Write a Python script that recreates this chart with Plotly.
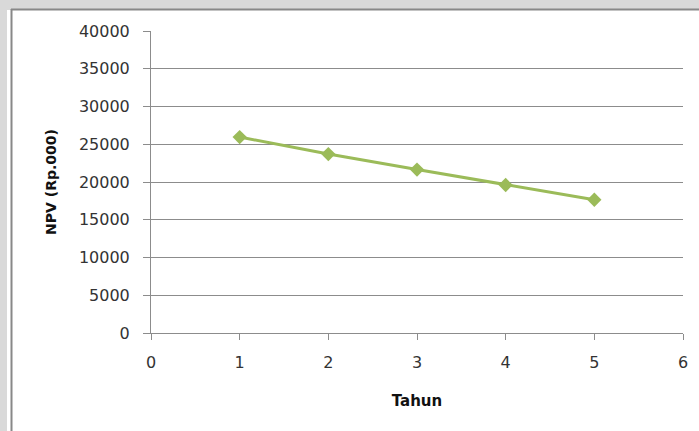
import plotly.graph_objects as go

# NPV per year
tahun = [1, 2, 3, 4, 5]
npv = [25950, 23700, 21650, 19600, 17650]

x_ticks = [0, 1, 2, 3, 4, 5, 6]
y_ticks = [0, 5000, 10000, 15000, 20000, 25000, 30000, 35000, 40000]

W, H = 699, 431
ML, MR, MT, MB = 151, 16, 31, 98
PW, PH = W - ML - MR, H - MT - MB


def px_x(p):
    return (p - ML) / PW


def px_y(p):
    return 1 - (p - MT) / PH


GREEN = "#9BBB59"
GRID = "#8c8c8c"
FONT = "DejaVu Sans"

fig = go.Figure()
fig.add_trace(go.Scatter(
    x=tahun, y=npv, mode="lines+markers",
    line=dict(color=GREEN, width=3),
    marker=dict(symbol="diamond", size=11, color=GREEN),
    showlegend=False, hoverinfo="x+y",
))

shapes = [
    # white chart area
    dict(type="rect", xref="paper", yref="paper", layer="below",
         x0=px_x(7), x1=px_x(W + 20), y0=px_y(H + 20), y1=px_y(10),
         fillcolor="white", line=dict(width=0)),
    # chart border
    dict(type="line", xref="paper", yref="paper", layer="below",
         x0=px_x(11.5), x1=px_x(11.5), y0=px_y(9), y1=px_y(H + 20),
         line=dict(color="#888888", width=2)),
    dict(type="line", xref="paper", yref="paper", layer="below",
         x0=px_x(11), x1=px_x(W + 20), y0=px_y(9.5), y1=px_y(9.5),
         line=dict(color="#888888", width=2)),
]

fig.update_layout(
    width=W, height=H,
    margin=dict(l=ML, r=MR, t=MT, b=MB, pad=0),
    paper_bgcolor="#d9d9d9",
    plot_bgcolor="white",
    shapes=shapes,
    font=dict(family=FONT, color="#333333", size=16),
    xaxis=dict(
        range=[0, 6], tickvals=x_ticks, ticktext=[str(v) for v in x_ticks],
        showgrid=False, zeroline=False,
        showline=True, linecolor=GRID, linewidth=1,
        ticks="outside", ticklen=6, tickcolor=GRID,
        ticklabelstandoff=9,
        tickfont=dict(family=FONT, size=16, color="#333333"),
        title=dict(text="<b>Tahun</b>", font=dict(family=FONT, size=15, color="#111111"),
                   standoff=24),
    ),
    yaxis=dict(
        range=[0, 40000], tickvals=y_ticks, ticktext=[str(v) for v in y_ticks],
        showgrid=True, gridcolor=GRID, gridwidth=1, zeroline=False,
        showline=True, linecolor=GRID, linewidth=1,
        ticks="outside", ticklen=7, tickcolor=GRID,
        ticklabelstandoff=10,
        tickfont=dict(family=FONT, size=16, color="#333333"),
        title=dict(text="<b>NPV (Rp.000)</b>", font=dict(family=FONT, size=14, color="#111111"),
                   standoff=18),
    ),
)

fig.write_html("out.html")
